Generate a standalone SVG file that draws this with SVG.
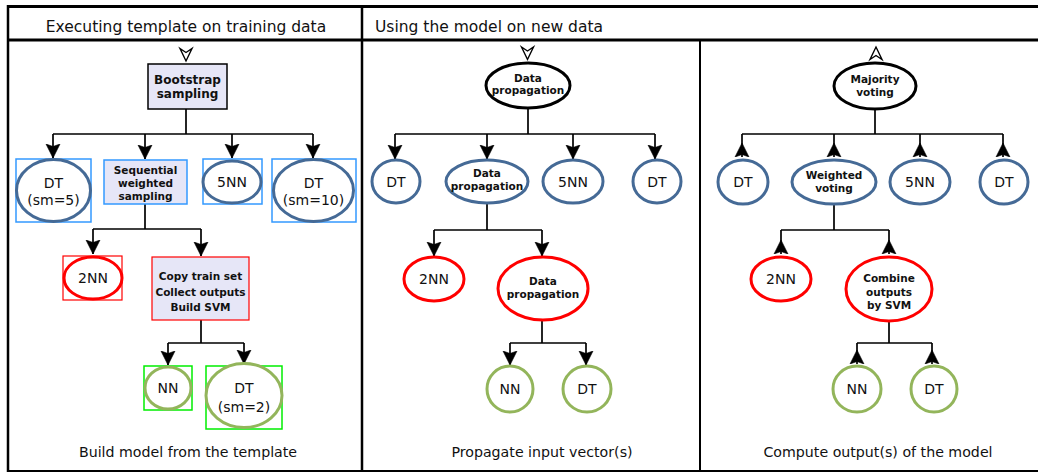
<svg xmlns="http://www.w3.org/2000/svg" width="1038" height="473" viewBox="0 0 1038 473">
<style>
.frame{stroke:#000;fill:none}
.hdr{font-family:"DejaVu Sans",sans-serif;font-size:15.5px;fill:#111}
.ftr{font-family:"DejaVu Sans",sans-serif;font-size:14.2px;fill:#111;text-anchor:middle}
.lbl{font-family:"DejaVu Sans",sans-serif;font-size:14px;fill:#111;text-anchor:middle}
.bl{font-family:"DejaVu Sans",sans-serif;font-size:10.5px;font-weight:bold;fill:#111;text-anchor:middle}
.bl12{font-family:"DejaVu Sans",sans-serif;font-size:12px;font-weight:bold;fill:#111;text-anchor:middle}
.eb{fill:#fff;stroke:#456a96;stroke-width:3}
.er{fill:#fff;stroke:#ff0000;stroke-width:3}
.eg{fill:#fff;stroke:#93b55b;stroke-width:3}
.ek{fill:#fff;stroke:#000;stroke-width:3}
.rb{fill:none;stroke:#3399ff;stroke-width:1.5}
.rr{fill:none;stroke:#ff0000;stroke-width:1.2}
.rg{fill:none;stroke:#00ee00;stroke-width:1.5}
.box{fill:#e6e6f7}
.c{fill:none;stroke:#000;stroke-width:1.7}
.dn{marker-end:url(#ahd)}
.up{marker-start:url(#ahu)}
.hollow{fill:#fff;stroke:#000;stroke-width:1.4}
</style>
<defs>
<marker id="ahd" markerUnits="userSpaceOnUse" markerWidth="18" markerHeight="18" viewBox="0 -9 18 18" refX="14" refY="0" orient="auto">
<path d="M0,-7 L14,0 L0,7 L2.5,0 Z" fill="#000" stroke="#000" stroke-width="0.6" stroke-linejoin="miter"/>
</marker>
<marker id="ahu" markerUnits="userSpaceOnUse" markerWidth="18" markerHeight="18" viewBox="0 -9 18 18" refX="0" refY="0" orient="auto">
<path d="M0,-7 L14,0 L0,7 L2.5,0 Z" fill="#000" stroke="#000" stroke-width="0.6" stroke-linejoin="miter"/>
</marker>
</defs>
<rect width="1038" height="473" fill="#fff"/>
<g id="frame" class="frame">
<line x1="7" y1="6.5" x2="1038" y2="6.5" stroke-width="3"/>
<line x1="7" y1="40" x2="1038" y2="40" stroke-width="3"/>
<line x1="7" y1="471" x2="1038" y2="471" stroke-width="2"/>
<line x1="8" y1="5" x2="8" y2="472" stroke-width="2.5"/>
<line x1="362" y1="5" x2="362" y2="472" stroke-width="2.5"/>
<line x1="700" y1="40" x2="700" y2="472" stroke-width="2"/>
</g>
<g id="titles">
<text class="hdr" x="186" y="31.5" text-anchor="middle">Executing template on training data</text>
<text class="hdr" x="375" y="31.5">Using the model on new data</text>
<text class="ftr" x="188" y="457">Build model from the template</text>
<text class="ftr" x="542" y="457">Propagate input vector(s)</text>
<text class="ftr" x="878" y="457">Compute output(s) of the model</text>
</g>
<g id="connectors">
<path class="hollow" d="M180,48.5 L186,52.5 L192,48.5 L186,61 Z"/>
<path class="hollow" d="M521.5,47 L527.5,51 L533.5,47 L527.5,59.5 Z"/>
<path class="hollow" d="M870,59.5 L876,55.5 L882,59.5 L876,47 Z"/>
<path class="c" d="M186,109 V134 M53,134 H313 M875,109 V134 M742,134 H1003 M528,108 V134 M395,134 H655"/>
<path class="c dn" d="M53,134 V158"/>
<path class="c dn" d="M145,134 V159"/>
<path class="c dn" d="M232,134 V158"/>
<path class="c dn" d="M313,134 V158"/>
<path class="c" d="M145,204 V229 M93,229 H201"/>
<path class="c dn" d="M93,229 V254"/>
<path class="c dn" d="M201,229 V256"/>
<path class="c" d="M201,320 V343 M168,343 H244"/>
<path class="c dn" d="M168,343 V365"/>
<path class="c dn" d="M244,343 V364"/>
<path class="c dn" d="M395,134 V159"/>
<path class="c dn" d="M487,134 V159"/>
<path class="c dn" d="M573,134 V159"/>
<path class="c dn" d="M655,134 V159"/>
<path class="c" d="M487,203 V230 M434,230 H542"/>
<path class="c dn" d="M434,230 V256"/>
<path class="c dn" d="M542,230 V256"/>
<path class="c" d="M542,320 V343 M510,343 H586"/>
<path class="c dn" d="M510,343 V365"/>
<path class="c dn" d="M586,343 V365"/>
<path class="c up" d="M742,157 V134"/>
<path class="c up" d="M834,157 V134"/>
<path class="c up" d="M920,157 V134"/>
<path class="c up" d="M1003,157 V134"/>
<path class="c" d="M834,204 V230 M781,230 H889"/>
<path class="c up" d="M781,254 V230"/>
<path class="c up" d="M889,254 V230"/>
<path class="c" d="M889,321 V343 M857,343 H932"/>
<path class="c up" d="M857,364 V343"/>
<path class="c up" d="M932,364 V343"/>
</g>
<g id="n-bootstrap">
<rect class="box" x="148" y="64" width="79" height="45" stroke="#000" stroke-width="1.5"/>
<text class="bl12" x="187.5" y="83.5">Bootstrap</text>
<text class="bl12" x="187.5" y="97.5">sampling</text>
</g>
<g id="n-dt5">
<rect class="rb" x="16" y="159" width="75" height="63"/>
<ellipse class="eb" cx="53.5" cy="190.5" rx="37" ry="31"/>
<text class="lbl" x="53.5" y="187.5">DT</text>
<text class="lbl" x="53.5" y="205">(sm=5)</text>
</g>
<g id="n-seqsamp">
<rect class="box" x="104" y="160" width="83" height="44" stroke="#3399ff" stroke-width="1.5"/>
<text class="bl" x="145.5" y="173.5">Sequential</text>
<text class="bl" x="145.5" y="186.5">weighted</text>
<text class="bl" x="145.5" y="200">sampling</text>
</g>
<g id="n-5nn1">
<rect class="rb" x="203" y="159" width="59" height="45"/>
<ellipse class="eb" cx="232" cy="182" rx="29" ry="21"/>
<text class="lbl" x="232" y="187">5NN</text>
</g>
<g id="n-dt10">
<rect class="rb" x="272" y="159" width="84" height="63"/>
<ellipse class="eb" cx="313.5" cy="190.5" rx="40" ry="31"/>
<text class="lbl" x="313.5" y="187.5">DT</text>
<text class="lbl" x="313.5" y="205">(sm=10)</text>
</g>
<g id="n-2nn1">
<rect class="rr" x="63" y="256" width="59" height="44"/>
<ellipse class="er" cx="93" cy="278" rx="29" ry="21"/>
<text class="lbl" x="93" y="283">2NN</text>
</g>
<g id="n-copy">
<rect class="box" x="152" y="257" width="97" height="63" stroke="#ff0000" stroke-width="1.2"/>
<text class="bl" x="200.5" y="280">Copy train set</text>
<text class="bl" x="200.5" y="295.5">Collect outputs</text>
<text class="bl" x="200.5" y="311">Build SVM</text>
</g>
<g id="n-nn1">
<rect class="rg" x="144" y="366" width="48" height="44"/>
<ellipse class="eg" cx="168" cy="388" rx="23" ry="21"/>
<text class="lbl" x="168" y="393">NN</text>
</g>
<g id="n-dt2">
<rect class="rg" x="206" y="366" width="76" height="63"/>
<ellipse class="eg" cx="244" cy="395.5" rx="38" ry="32"/>
<text class="lbl" x="244" y="393">DT</text>
<text class="lbl" x="244" y="412">(sm=2)</text>
</g>
<g id="n-dp1">
<ellipse class="ek" cx="528" cy="85.5" rx="42" ry="22.5"/>
<text class="bl" x="528" y="81.5">Data</text>
<text class="bl" x="528" y="94">propagation</text>
</g>
<g id="n-dt-p2a">
<ellipse class="eb" cx="396" cy="181.5" rx="24" ry="21.5"/>
<text class="lbl" x="396" y="186.5">DT</text>
</g>
<g id="n-dp2">
<ellipse class="eb" cx="487" cy="181.5" rx="41" ry="21.5"/>
<text class="bl" x="487" y="177">Data</text>
<text class="bl" x="487" y="189.5">propagation</text>
</g>
<g id="n-5nn2">
<ellipse class="eb" cx="573" cy="181.5" rx="30" ry="21.5"/>
<text class="lbl" x="573" y="186.5">5NN</text>
</g>
<g id="n-dt-p2b">
<ellipse class="eb" cx="657" cy="181.5" rx="24" ry="21.5"/>
<text class="lbl" x="657" y="186.5">DT</text>
</g>
<g id="n-2nn2">
<ellipse class="er" cx="434" cy="279" rx="30" ry="22"/>
<text class="lbl" x="434" y="284">2NN</text>
</g>
<g id="n-dp3">
<ellipse class="er" cx="543" cy="288.5" rx="45" ry="31.5"/>
<text class="bl" x="543" y="285">Data</text>
<text class="bl" x="543" y="298">propagation</text>
</g>
<g id="n-nn2">
<ellipse class="eg" cx="510" cy="389" rx="23" ry="23"/>
<text class="lbl" x="510" y="394">NN</text>
</g>
<g id="n-dt-p2c">
<ellipse class="eg" cx="587" cy="389" rx="24" ry="23"/>
<text class="lbl" x="587" y="394">DT</text>
</g>
<g id="n-majority">
<ellipse class="ek" cx="875" cy="86" rx="41" ry="23"/>
<text class="bl" x="875" y="82.5">Majority</text>
<text class="bl" x="875" y="95.5">voting</text>
</g>
<g id="n-dt-p3a">
<ellipse class="eb" cx="743" cy="182" rx="25" ry="22"/>
<text class="lbl" x="743" y="187">DT</text>
</g>
<g id="n-weighted">
<ellipse class="eb" cx="834" cy="182" rx="42" ry="22"/>
<text class="bl" x="834" y="178.5">Weighted</text>
<text class="bl" x="834" y="192">voting</text>
</g>
<g id="n-5nn3">
<ellipse class="eb" cx="920" cy="182" rx="30" ry="22"/>
<text class="lbl" x="920" y="187">5NN</text>
</g>
<g id="n-dt-p3b">
<ellipse class="eb" cx="1004" cy="182" rx="24" ry="22"/>
<text class="lbl" x="1004" y="187">DT</text>
</g>
<g id="n-2nn3">
<ellipse class="er" cx="781" cy="279" rx="30" ry="22"/>
<text class="lbl" x="781" y="284">2NN</text>
</g>
<g id="n-svm">
<ellipse class="er" cx="889" cy="289" rx="43" ry="32"/>
<text class="bl" x="889" y="282">Combine</text>
<text class="bl" x="889" y="295.5">outputs</text>
<text class="bl" x="889" y="309">by SVM</text>
</g>
<g id="n-nn3">
<ellipse class="eg" cx="857" cy="389" rx="24" ry="23"/>
<text class="lbl" x="857" y="394">NN</text>
</g>
<g id="n-dt-p3c">
<ellipse class="eg" cx="934" cy="389" rx="23" ry="23"/>
<text class="lbl" x="934" y="394">DT</text>
</g>
</svg>
